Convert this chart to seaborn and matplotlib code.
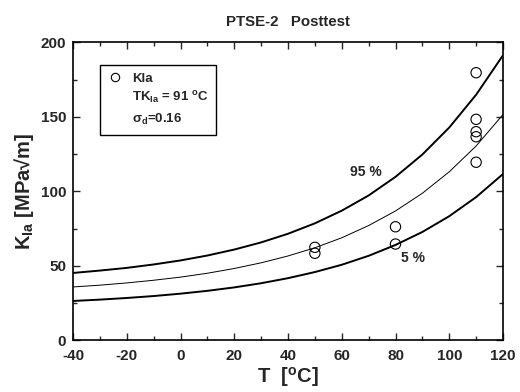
import matplotlib
matplotlib.use("Agg")
import matplotlib.pyplot as plt
from matplotlib.lines import Line2D
from matplotlib.ticker import MultipleLocator
import seaborn as sns
import pandas as pd

# ---- data ----
curve_T = [-40, -30, -20, -10, 0, 10, 20, 30, 40, 50, 60, 70, 80, 90, 100, 110, 120]
k_median = [35.8, 37.0, 38.5, 40.3, 42.4, 45.0, 48.2, 52.0, 56.6, 62.1, 68.8, 77.0, 86.8, 98.7, 113.1, 130.4, 151.5]
k_95 = [45.2, 46.8, 48.6, 50.9, 53.6, 56.9, 60.9, 65.7, 71.5, 78.5, 87.0, 97.2, 109.7, 124.7, 142.8, 164.8, 191.3]
k_5 = [26.4, 27.3, 28.4, 29.7, 31.3, 33.2, 35.5, 38.3, 41.7, 45.8, 50.7, 56.7, 64.0, 72.7, 83.3, 96.1, 111.6]

test_T = [50, 50, 80, 80, 110, 110, 110, 110, 110]
test_K = [62.4, 58.4, 76.2, 64.6, 179.6, 148.3, 140.0, 136.6, 119.5]

x_ticks = [-40, -20, 0, 20, 40, 60, 80, 100, 120]
y_ticks = [0, 50, 100, 150, 200]

title = "PTSE-2   Posttest"
legend_labels = ["Kla", "TK$_{Ia}$ = 91 $^{o}$C", "σ$_{d}$=0.16"]

# ---- style ----
sns.set_style("ticks")
plt.rcParams["font.family"] = ["Liberation Sans", "DejaVu Sans"]
plt.rcParams["font.weight"] = "bold"
plt.rcParams["axes.unicode_minus"] = False
plt.rcParams["mathtext.fontset"] = "custom"
plt.rcParams["mathtext.rm"] = "Liberation Sans:bold"
plt.rcParams["mathtext.it"] = "Liberation Sans:bold"
plt.rcParams["mathtext.bf"] = "Liberation Sans:bold"
plt.rcParams["mathtext.default"] = "rm"

fig = plt.figure(figsize=(5.2, 3.92), dpi=100)
ax = fig.add_axes([73 / 520, 1 - 340.3 / 392, 430 / 520, 298 / 392])

curves = pd.DataFrame({"T": curve_T, "med": k_median, "p95": k_95, "p5": k_5})
sns.lineplot(data=curves, x="T", y="p95", color="black", linewidth=1.4, ax=ax)
sns.lineplot(data=curves, x="T", y="med", color="black", linewidth=0.7, ax=ax)
sns.lineplot(data=curves, x="T", y="p5", color="black", linewidth=1.4, ax=ax)

pts = pd.DataFrame({"T": test_T, "K": test_K})
sns.scatterplot(data=pts, x="T", y="K", ax=ax, s=55, facecolor="none",
                edgecolor="black", linewidth=0.8, zorder=5)

ax.set_xlim(-40, 120)
ax.set_ylim(0, 200)
ax.set_xticks(x_ticks)
ax.set_yticks(y_ticks)
ax.xaxis.set_minor_locator(MultipleLocator(10))
ax.yaxis.set_minor_locator(MultipleLocator(25))
ax.tick_params(which="both", direction="in", top=True, right=True,
               labelsize=11, width=1.0)
ax.tick_params(axis="x", which="major", pad=6)
ax.tick_params(axis="y", which="major", pad=5)
ax.tick_params(which="major", length=5)
ax.tick_params(which="minor", length=3)
for lab in ax.get_xticklabels() + ax.get_yticklabels():
    lab.set_fontweight("bold")
for sp in ax.spines.values():
    sp.set_linewidth(1.2)
    sp.set_color("black")

ax.set_xlabel("T  [$^{o}$C]", fontsize=14.5, fontweight="bold", labelpad=2)
ax.set_ylabel("K$_{Ia}$ [MPa√m]", fontsize=14.5, fontweight="bold", labelpad=3)
ax.set_title(title, fontsize=10.8, fontweight="bold", pad=12)

ax.text(69, 113, "95 %", fontsize=10, fontweight="bold", ha="center", va="center")
ax.text(86.6, 55.2, "5 %", fontsize=10, fontweight="bold", ha="center", va="center")

handles = [Line2D([], [], marker="o", ls="none", mfc="none", mec="black", mew=0.8, ms=6),
           Line2D([], [], ls="none"),
           Line2D([], [], ls="none")]
leg = ax.legend(handles, legend_labels, loc="upper left", bbox_to_anchor=(0.063, 0.924),
                frameon=True, fancybox=False, edgecolor="black", framealpha=1,
                prop={"weight": "bold", "size": 9.5}, handlelength=1.0, handletextpad=0.8,
                borderpad=0.6, labelspacing=0.4, borderaxespad=0)
leg.get_frame().set_linewidth(1.0)

fig.savefig("out.png", dpi=100)
